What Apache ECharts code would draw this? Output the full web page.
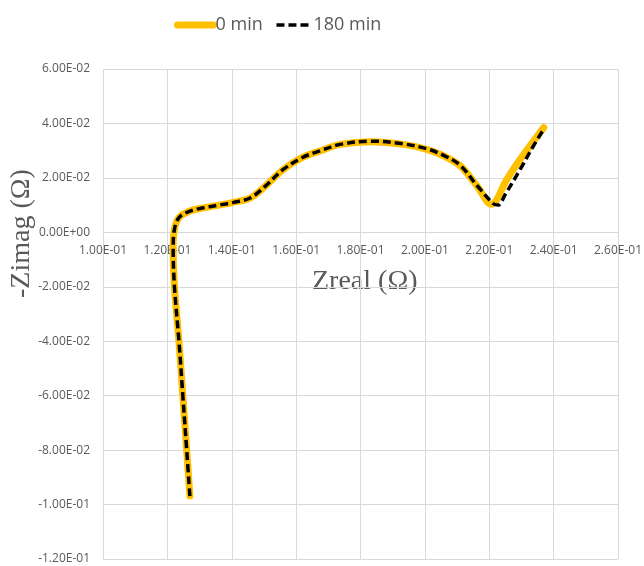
<!DOCTYPE html>
<html>
<head>
<meta charset="utf-8">
<script src="https://cdn.jsdelivr.net/npm/echarts@6/dist/echarts.min.js"></script>
<style>
  html, body { margin: 0; padding: 0; background: #ffffff; }
  #chart { width: 644px; height: 566px; }
</style>
</head>
<body>
<div id="chart"></div>
<script>
// Nyquist data: Zreal (Ω) and -Zimag (Ω)
const seriesNames = ['0 min', '180 min'];

const zreal0 = [0.1270, 0.1260, 0.1248, 0.1236, 0.1222, 0.1218, 0.1221, 0.1236, 0.1270, 0.1312,
                0.1360, 0.1405, 0.1457, 0.1500, 0.1560, 0.1620, 0.1674, 0.1737, 0.1830, 0.1933,
                0.2006, 0.2060, 0.2110, 0.2162, 0.2206, 0.2255, 0.2296, 0.2369];
const zimag0 = [-0.0969, -0.0800, -0.0600, -0.0400, -0.0200, -0.0060, 0.0005, 0.0054, 0.0078, 0.0090,
                0.0100, 0.0110, 0.0126, 0.0165, 0.0231, 0.0275, 0.0299, 0.0323, 0.0333, 0.0323,
                0.0305, 0.0280, 0.0244, 0.0170, 0.0103, 0.0195, 0.0268, 0.0385];

const zreal180 = [0.1270, 0.1260, 0.1248, 0.1236, 0.1222, 0.1218, 0.1221, 0.1236, 0.1270, 0.1312,
                  0.1360, 0.1405, 0.1457, 0.1500, 0.1560, 0.1620, 0.1674, 0.1737, 0.1830, 0.1933,
                  0.2006, 0.2060, 0.2110, 0.2162, 0.2213, 0.2228, 0.2250, 0.2296, 0.2337, 0.2369];
const zimag180 = [-0.0969, -0.0800, -0.0600, -0.0400, -0.0200, -0.0060, 0.0005, 0.0054, 0.0078, 0.0090,
                  0.0100, 0.0110, 0.0126, 0.0165, 0.0231, 0.0275, 0.0299, 0.0323, 0.0335, 0.0325,
                  0.0307, 0.0282, 0.0246, 0.0172, 0.0105, 0.0100, 0.0140, 0.0231, 0.0317, 0.0378];

const xTicks = { min: 0.10, max: 0.26, step: 0.02 };
const yTicks = { min: -0.12, max: 0.06, step: 0.02 };

function pairs(xs, ys) { return xs.map((x, i) => [x, ys[i]]); }

// Excel-style scientific labels, e.g. 6.00E-02
function sci(v) {
  v = Math.round(v * 1e8) / 1e8;
  if (v === 0) return '0.00E+00';
  const parts = v.toExponential(2).split('e');
  const n = parseInt(parts[1], 10);
  return parts[0] + 'E' + (n < 0 ? '-' : '+') + String(Math.abs(n)).padStart(2, '0');
}

const labelColor = '#595959';
const gridColor = '#d9d9d9';
const tickFont = '"Open Sans", "Noto Sans", sans-serif';

const W = 644, H = 566;
const grid = { left: 103, right: 26, top: 69, bottom: 7 };
// lift the horizontal axis from the grid bottom up to -Zimag = 0
const plotH = H - grid.top - grid.bottom;
const zeroLift = plotH * (0 - yTicks.min) / (yTicks.max - yTicks.min);

const chart = echarts.init(document.getElementById('chart'), null, { renderer: 'canvas', width: W, height: H });
chart.setOption({
  animation: false,
  backgroundColor: '#ffffff',
  legend: {
    top: 11,
    left: 169,
    itemWidth: 36,
    itemHeight: 14,
    itemGap: 12,
    itemStyle: { opacity: 0 },
    textStyle: { color: labelColor, fontSize: 18, fontFamily: tickFont, padding: [0, 0, 0, -3] },
    data: [
      { name: seriesNames[0], lineStyle: { width: 7, cap: 'round' } },
      { name: seriesNames[1], lineStyle: { width: 3.5 }, textStyle: { padding: [0, 0, 0, -4] } }
    ]
  },
  grid: Object.assign({ containLabel: false, outerBoundsMode: 'none' }, grid),
  xAxis: {
    type: 'value',
    min: xTicks.min, max: xTicks.max, interval: xTicks.step,
    offset: -zeroLift,
    axisLine: { show: true, onZero: false, lineStyle: { color: gridColor, width: 1 } },
    axisTick: { show: false },
    axisLabel: { color: labelColor, fontSize: 12, fontFamily: tickFont, margin: 12, formatter: sci,
                 showMinLabel: true, showMaxLabel: true },
    splitLine: { show: true, lineStyle: { color: gridColor, width: 1 } }
  },
  yAxis: {
    type: 'value',
    min: yTicks.min, max: yTicks.max, interval: yTicks.step,
    axisLine: { show: false },
    axisTick: { show: false },
    axisLabel: { color: labelColor, fontSize: 12, fontFamily: tickFont, margin: 13, formatter: sci },
    splitLine: { show: true, lineStyle: { color: gridColor, width: 1 } }
  },
  graphic: [
    {
      type: 'text', left: 312, top: 268,
      style: { text: 'Zreal (Ω)', fill: labelColor, font: '28px "Liberation Serif", serif' }
    },
    {
      type: 'text', x: 8, y: 298, rotation: Math.PI / 2,
      style: { text: '-Zimag (Ω)', fill: labelColor, font: '28px "Liberation Serif", serif' }
    }
  ],
  series: [
    {
      name: seriesNames[0], type: 'line', data: pairs(zreal0, zimag0),
      smooth: 0.35, symbol: 'none', showSymbol: false,
      lineStyle: { color: '#FFC000', width: 7, cap: 'round', join: 'round' },
      itemStyle: { color: '#FFC000' }, z: 2
    },
    {
      name: seriesNames[1], type: 'line', data: pairs(zreal180, zimag180),
      smooth: 0.35, symbol: 'none', showSymbol: false,
      lineStyle: { color: '#000000', width: 3.5, type: [8, 4] },
      itemStyle: { color: '#000000' }, z: 3
    }
  ]
});
</script>
</body>
</html>
